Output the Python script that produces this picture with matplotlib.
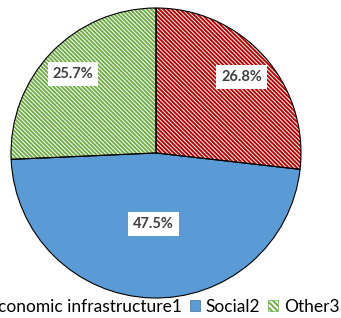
import numpy as np
import matplotlib.pyplot as plt
from matplotlib.patches import Patch

# --- DATA ---
labels = ["Economic infrastructure1", "Social2", "Other3"]
values = [26.8, 47.5, 25.7]
face_colors = ["white", "#5B9BD5", "white"]
hatch_colors = ["#C00000", "#5B9BD5", "#70AD47"]
hatches = ["\\" * 8, None, "\\" * 8]
label_dist = [0.79, 0.49, 0.79]

plt.rcParams["font.family"] = ["Lato", "DejaVu Sans"]
plt.rcParams["hatch.linewidth"] = 1.4

W, H = 341, 318
fig = plt.figure(figsize=(W / 100, H / 100), dpi=100)
ax = fig.add_axes([0.0, 0.0, 1.0, 1.0])

cx, cy, r = 156, H - 153, 145

# hatched fill layer
wedges, _ = ax.pie(values, colors=face_colors, startangle=90, counterclock=False,
                   radius=r, center=(cx, cy), wedgeprops=dict(linewidth=0))
for w, h, hc in zip(wedges, hatches, hatch_colors):
    if h:
        w.set_hatch(h)
        w.set_edgecolor(hc)

# outline layer
wedges2, _ = ax.pie(values, startangle=90, counterclock=False,
                    radius=r, center=(cx, cy),
                    wedgeprops=dict(fill=False, edgecolor="black", linewidth=0.8))

# percentage labels
for w, v, d in zip(wedges, values, label_dist):
    ang = np.deg2rad((w.theta1 + w.theta2) / 2)
    ax.text(cx + d * r * np.cos(ang), cy + d * r * np.sin(ang), f"{v:.1f}%",
            ha="center", va="center", fontsize=10.5, fontweight="bold", color="#404040",
            bbox=dict(facecolor="white", edgecolor="none", pad=3.5))

ax.set_xlim(0, W)
ax.set_ylim(0, H)
ax.set_aspect("equal")
ax.axis("off")

handles = []
for fc, hc, h in zip(face_colors, hatch_colors, hatches):
    if h:
        handles.append(Patch(facecolor="white", edgecolor=hc, hatch="\\" * 6, linewidth=0.5))
    else:
        handles.append(Patch(facecolor=fc, edgecolor="#41719C", linewidth=0.5))

# legend is wider than the figure, so its left end is clipped as in the reference
fig.legend(handles, labels, loc="center right", bbox_to_anchor=(1.0, 1 - 307 / H),
           ncol=3, frameon=False, fontsize=12.5, handlelength=0.6, handleheight=0.6,
           handletextpad=0.3, columnspacing=0.45, borderaxespad=0.0, borderpad=0.1)

plt.savefig("out.png", dpi=100)
